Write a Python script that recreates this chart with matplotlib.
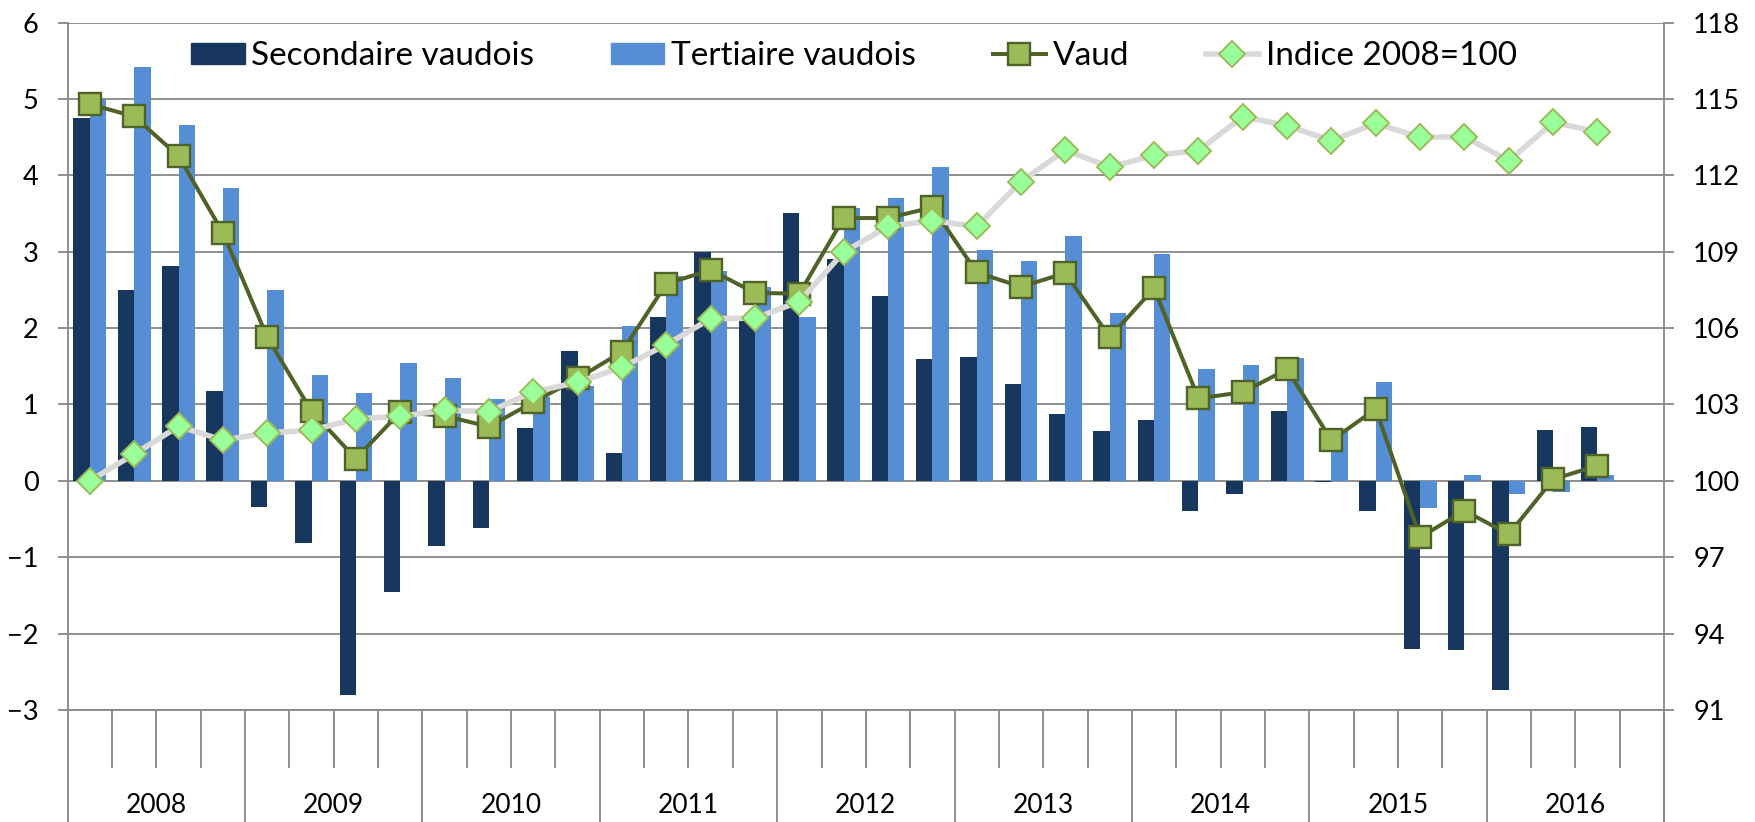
import numpy as np
import matplotlib
matplotlib.use("Agg")
import matplotlib.pyplot as plt
from matplotlib.lines import Line2D
from matplotlib.patches import Patch

plt.rcParams['font.family'] = ['Lato', 'DejaVu Sans']

# Quarterly data, 2008Q1 .. 2016Q3
years = [2008, 2009, 2010, 2011, 2012, 2013, 2014, 2015, 2016]
secondaire = [4.75, 2.50, 2.81, 1.17, -0.34, -0.82, -2.80, -1.45,
              -0.85, -0.62, 0.69, 1.70, 0.36, 2.15, 2.99, 2.10,
              3.50, 2.91, 2.42, 1.59, 1.62, 1.27, 0.87, 0.65,
              0.80, -0.40, -0.17, 0.91, -0.02, -0.40, -2.20, -2.22,
              -2.74, 0.66, 0.71]
tertiaire = [5.00, 5.42, 4.66, 3.84, 2.50, 1.39, 1.15, 1.54,
             1.34, 1.07, 1.10, 1.24, 2.03, 2.68, 2.75, 2.54,
             2.15, 3.57, 3.70, 4.11, 3.02, 2.88, 3.21, 2.20,
             2.97, 1.46, 1.52, 1.61, 0.67, 1.30, -0.36, 0.08,
             -0.17, -0.14, 0.07]
vaud = [4.93, 4.77, 4.25, 3.25, 1.88, 0.91, 0.29, 0.90,
        0.85, 0.71, 1.03, 1.34, 1.69, 2.58, 2.76, 2.46,
        2.45, 3.44, 3.44, 3.58, 2.73, 2.54, 2.72, 1.88,
        2.52, 1.08, 1.16, 1.46, 0.53, 0.94, -0.74, -0.39,
        -0.70, 0.02, 0.20]
indice = [100.0, 101.05, 102.14, 101.6, 101.88, 101.99, 102.43, 102.54,
          102.77, 102.72, 103.49, 103.87, 104.46, 105.35, 106.37, 106.39,
          107.04, 108.98, 109.99, 110.22, 109.99, 111.75, 112.99, 112.32,
          112.78, 112.97, 114.3, 113.95, 113.36, 114.04, 113.49, 113.52,
          112.56, 114.08, 113.71]

left_ticks = list(range(-3, 7))
right_ticks = list(range(91, 119, 3))

DARK = '#17375E'
LIGHT = '#558ED5'
OLIVE = '#4F6228'
OLIVE_FILL = '#9BBB59'
GREY_LINE = '#D9D9D9'
DIAMOND = '#99FF99'
GRID = '#878787'

W, H = 1756, 822
fig = plt.figure(figsize=(W / 100, H / 100), dpi=100)
x0, x1, y_top, y_bot = 67.7, 1664, 22.5, 710
ax = fig.add_axes([x0 / W, 1 - y_bot / H, (x1 - x0) / W, (y_bot - y_top) / H])

n_slots = 4 * len(years)
x = np.arange(len(vaud)) + 0.5
bw = 0.37

ax.bar(x - bw / 2, secondaire, bw, color=DARK, zorder=2)
ax.bar(x + bw / 2, tertiaire, bw, color=LIGHT, zorder=2)
ax.plot(x, vaud, color=OLIVE, lw=2.9, marker='s', ms=15.5,
        mfc=OLIVE_FILL, mec=OLIVE, mew=1.7, zorder=3)

ax.set_xlim(0, n_slots)
ax.set_ylim(-3, 6)
ax.set_yticks(left_ticks)
ax.grid(axis='y', color=GRID, lw=1.3, zorder=0)
ax.set_axisbelow(True)
for s in ['top', 'right']:
    ax.spines[s].set_visible(False)
for s in ['left', 'bottom']:
    ax.spines[s].set_color(GRID)
    ax.spines[s].set_linewidth(1.3)
ax.tick_params(axis='y', direction='out', length=7, width=1.3, color=GRID,
               labelsize=19.5, pad=14)

# category axis: quarter separators and year separators
ax.set_xticks(np.arange(0, n_slots + 1, 4))
ax.set_xticks(np.arange(n_slots + 1), minor=True)
ax.set_xticklabels([])
ax.tick_params(axis='x', which='major', direction='out', length=81,
               width=1.3, color=GRID)
ax.tick_params(axis='x', which='minor', direction='out', length=42,
               width=1.3, color=GRID)
trans = ax.get_xaxis_transform()
for k, yr in enumerate(years):
    ax.text(4 * k + 2, (y_bot - 805) / (y_bot - y_top), str(yr),
            transform=trans, ha='center', va='center', fontsize=19)

ax2 = ax.twinx()
ax2.plot(x, indice, color=GREY_LINE, lw=4, marker='D', ms=13.5,
         mfc=DIAMOND, mec=OLIVE_FILL, mew=1.4, zorder=4)
ax2.set_ylim(91, 118)
ax2.set_yticks(right_ticks)
for s in ['top', 'left', 'bottom']:
    ax2.spines[s].set_visible(False)
ax2.spines['right'].set_color(GRID)
ax2.spines['right'].set_linewidth(1.3)
ax2.spines['right'].set_bounds(91, 118)
ax2.tick_params(axis='y', direction='out', length=7, width=1.3, color=GRID,
                labelsize=19.5, pad=14)
# right border continues down through the category area
ax2.plot([1, 1], [0, -(H - y_bot) / (y_bot - y_top)], transform=ax2.transAxes,
         color=GRID, lw=1.3, clip_on=False)

handles = [
    Patch(color=DARK, label='Secondaire vaudois'),
    Patch(color=LIGHT, label='Tertiaire vaudois'),
    Line2D([], [], color=OLIVE, lw=2.9, marker='s', ms=15.5, mfc=OLIVE_FILL,
           mec=OLIVE, mew=1.7, label='Vaud'),
    Line2D([], [], color=GREY_LINE, lw=4, marker='D', ms=13.5, mfc=DIAMOND,
           mec=OLIVE_FILL, mew=1.4, label='Indice 2008=100'),
]
fig.legend(handles=handles, loc='center', ncol=4, frameon=False,
           bbox_to_anchor=(854 / W, 1 - 56 / H), fontsize=24,
           handlelength=1.6, handleheight=0.6, handletextpad=0.2,
           columnspacing=2.3, borderpad=0)

fig.savefig('out.png', dpi=100)
